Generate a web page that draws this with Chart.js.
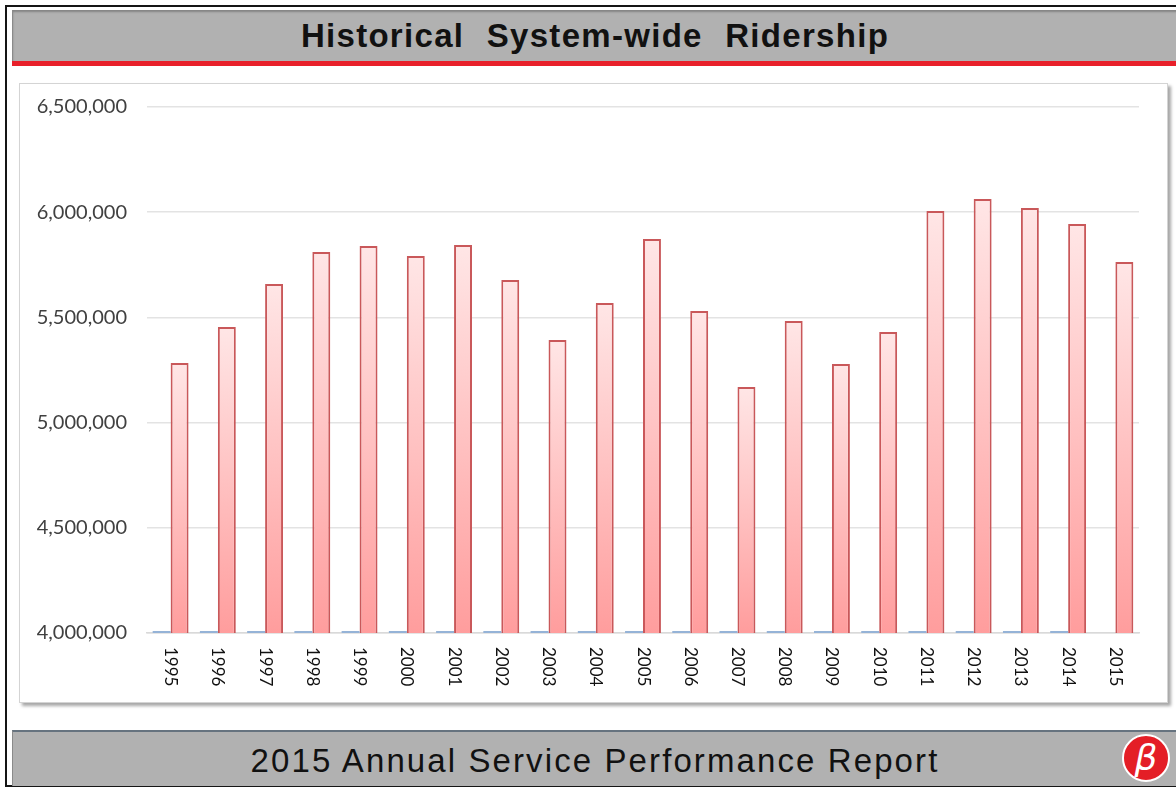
<!DOCTYPE html>
<html>
<head>
<meta charset="utf-8">
<script src="https://cdn.jsdelivr.net/npm/chart.js@4.4.1/dist/chart.umd.min.js"></script>
<style>
  html, body { margin: 0; padding: 0; background: #fff; }
  body { width: 1176px; height: 788px; position: relative; overflow: hidden; font-family: "Liberation Sans", Arial, sans-serif; }
  .frame { position: absolute; left: 5px; top: 5px; width: 1200px; height: 778px; border: 2px solid #151515; }
  .topbar { position: absolute; left: 12px; top: 10px; width: 1170px; height: 51px; background: #b1b1b1; border-left: 1px solid #8a8a8a; box-shadow: inset 0 2px 2px rgba(0,0,0,0.25); }
  .topbar span { position: absolute; left: 0; right: 6px; top: 0; line-height: 52px; text-align: center; font-weight: bold; font-size: 33px; color: #111; letter-spacing: 1.3px; word-spacing: 12px; }
  .redline { position: absolute; left: 12px; top: 61px; width: 1170px; height: 5px; background: #e8202a; }
  .bottombar { position: absolute; left: 12px; top: 730px; width: 1170px; height: 54px; background: #b1b1b1; border-top: 2px solid #66737f; border-left: 1px solid #8a8a8a; }
  .bottombar span { position: absolute; left: 0; right: 6px; top: 0; line-height: 58px; text-align: center; font-size: 33px; color: #111; letter-spacing: 2.1px; }
  .bottombar .gap { display: inline-block; width: 10px; }
  .logo { position: absolute; left: 1122px; top: 734px; width: 44px; height: 44px; border-radius: 50%; background: #e41e26; border: 2px solid #fff; color: #fff; font-size: 36px; font-style: italic; text-align: center; line-height: 44px; font-family: "DejaVu Sans", sans-serif; }
  .panel { position: absolute; left: 19px; top: 83px; width: 1147px; height: 618px; border: 1px solid #d4d4d4; background: #fff; box-shadow: 3px 3px 3px rgba(0,0,0,0.35); }
  .chartbox { position: absolute; left: 19px; top: 83px; width: 1149px; height: 620px; }
</style>
</head>
<body>
<div class="frame"></div>
<div class="topbar"><span>Historical System-wide Ridership</span></div>
<div class="redline"></div>
<div class="panel"></div>
<div class="chartbox"><canvas id="ridershipChart"></canvas></div>
<div class="bottombar"><span>2015 Annual<span class="gap"></span> Service Performance Report</span></div>
<div class="logo">β</div>
<script>
const years = ['1995', '1996', '1997', '1998', '1999', '2000', '2001', '2002', '2003', '2004', '2005',
  '2006', '2007', '2008', '2009', '2010', '2011', '2012', '2013', '2014', '2015'];
const ridership = [5283000, 5454000, 5659000, 5811000, 5839000, 5792000, 5844000, 5678000, 5393000, 5568000, 5873000,
  5530000, 5169000, 5483000, 5279000, 5431000, 6006000, 6063000, 6020000, 5944000, 5763000];
// second series sits on the axis floor, only a thin blue stub shows
const secondSeries = [4010000, 4010000, 4010000, 4010000, 4010000, 4010000, 4010000, 4010000, 4010000, 4010000, 4010000,
  4010000, 4010000, 4010000, 4010000, 4010000, 4010000, 4010000, 4010000, 4010000, null];
const yTicks = [4000000, 4500000, 5000000, 5500000, 6000000, 6500000];

function barGradient(context) {
    const chart = context.chart;
    const fallback = '#ffb3b3';
    if (!chart.chartArea || !chart.scales.y || context.raw == null) return fallback;
    const y = chart.scales.y;
    const top = y.getPixelForValue(context.raw);
    const base = y.getPixelForValue(yTicks[0]);
    if (!isFinite(top) || base - top < 1) return fallback;
    const g = chart.ctx.createLinearGradient(0, top, 0, base);
    g.addColorStop(0, '#ffe6e6');
    g.addColorStop(1, '#ff9d9d');
    return g;
}

const verticalLabels = {
    id: 'verticalLabels',
    afterDraw(chart) {
        const ctx = chart.ctx;
        const x = chart.scales.x;
        ctx.save();
        ctx.fillStyle = '#111';
        ctx.font = '17px Lato, "Open Sans", sans-serif';
        ctx.textAlign = 'left';
        ctx.textBaseline = 'middle';
        years.forEach((label, i) => {
            const px = x.getPixelForTick(i);
            ctx.save();
            ctx.translate(px, x.top + 14);
            ctx.rotate(Math.PI / 2);
            ctx.fillText(label, 0, 0);
            ctx.restore();
        });
        ctx.restore();
    }
};

const ctx = document.getElementById('ridershipChart');
new Chart(ctx, {
    type: 'bar',
    data: {
        labels: years,
        datasets: [
            { label: 'Series 1', data: secondSeries, backgroundColor: '#95b3d7', borderWidth: 0 },
            { label: 'Ridership', data: ridership, backgroundColor: barGradient, borderColor: '#c9585a', borderWidth: 2, borderSkipped: 'bottom' }
        ]
    },
    options: {
        responsive: true,
        maintainAspectRatio: false,
        animation: false,
        layout: { padding: { top: 24, right: 29, left: 0, bottom: 0 } },
        datasets: { bar: { categoryPercentage: 0.76, barPercentage: 1.0 } },
        plugins: { legend: { display: false }, tooltip: { enabled: false } },
        scales: {
            x: {
                grid: { display: false, drawTicks: false },
                border: { color: '#d9d9d9', width: 1.5 },
                ticks: { color: 'transparent', minRotation: 90, maxRotation: 90 },
                afterFit(scale) { scale.height = 70; }
            },
            y: {
                min: 4000000,
                max: 6500000,
                afterBuildTicks(scale) { scale.ticks = yTicks.map(v => ({ value: v })); },
                grid: { color: '#e3e3e3', lineWidth: 1.5, drawTicks: false },
                border: { display: false },
                ticks: {
                    color: '#404040',
                    padding: 20,
                    font: { family: 'Lato, "Open Sans", sans-serif', size: 20 },
                    callback: v => v.toLocaleString('en-US')
                },
                afterFit(scale) {
                    scale.width = 128;
                    scale.paddingTop = 0;
                    scale.paddingBottom = 0;
                }
            }
        }
    },
    plugins: [verticalLabels]
});
</script>
</body>
</html>
